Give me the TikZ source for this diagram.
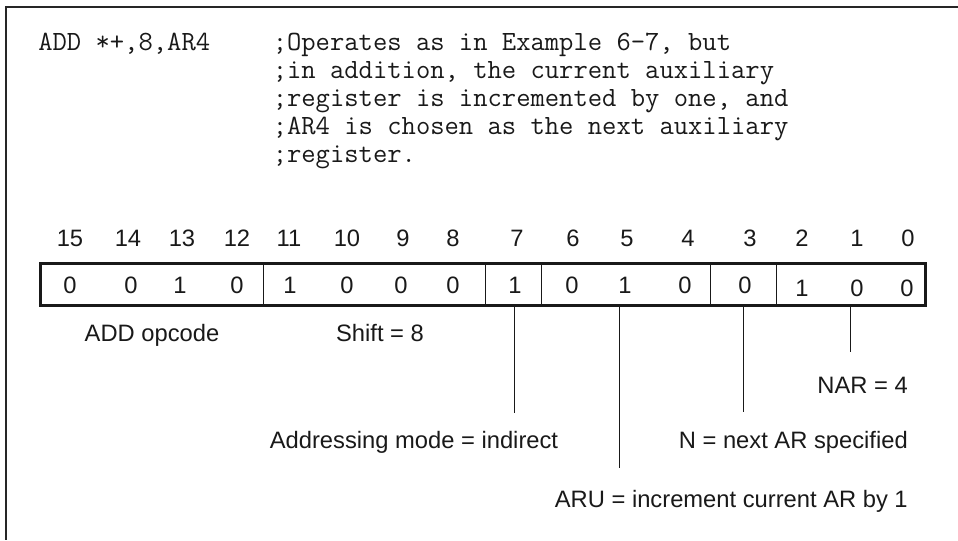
\documentclass[tikz,border=0pt]{standalone}
\usepackage{fontspec}
\setmainfont{Liberation Sans}
\begin{document}
\begin{tikzpicture}[x=0.75pt,y=-0.75pt,
  lbl/.style={font=\fontsize{17.8pt}{20pt}\selectfont, inner sep=0pt, text=black!90},
  bitnum/.style={lbl, anchor=base},
  bitval/.style={lbl, anchor=base},
  codeline/.style={font=\ttfamily\fontsize{20.86pt}{22pt}\selectfont, inner sep=0pt, anchor=base west, text=black!90},
  regbox/.style={draw=black!90, line width=2.25pt, minimum width=663.75pt, minimum height=31.5pt, inner sep=0pt, outer sep=0pt},
  divider/.style={draw=black!90, line width=0.75pt},
  leader/.style={draw=black!90, line width=0.75pt},
  frameline/.style={draw=black!85, line width=1.1pt}
]
\useasboundingbox (0,0) rectangle (958,540);
% frame
\coordinate (fc) at (6,7);
\coordinate (fr) at (958,7);
\coordinate (fb) at (6,540);
\draw[frameline] (fr) -- (fc) -- (fb);
% code text
\node[codeline] (instr) at (38,50) {ADD *+,8,AR4};
\node[codeline] (c1) at (272.5,50) {;Operates as in Example 6–7, but};
\node[codeline] (c2) at (272.5,78) {;in addition, the current auxiliary};
\node[codeline] (c3) at (272.5,106) {;register is incremented by one, and};
\node[codeline] (c4) at (272.5,134) {;AR4 is chosen as the next auxiliary};
\node[codeline] (c5) at (272.5,162) {;register.};
% bit numbers
\foreach \b/\x in {15/70,14/128,13/182,12/237,11/289,10/347,9/403,8/453,7/517,6/573,5/627,4/688,3/750,2/802,1/857,0/908}
  \node[bitnum] (n\b) at (\x,246.5) {\b};
% register box
\node[regbox] (reg) at (482.5,284) {};
\foreach \x in {263,485,541,710,776}
  \draw[divider] (\x,263) -- (\x,305);
% bit values
\foreach \b/\x/\v in {15/70/0,14/131/0,13/180/1,12/237/0,11/290/1,10/347/0,9/401/0,8/453/0,7/515/1,6/572/0,5/625/1,4/685/0,3/745/0}
  \node[bitval] (v\b) at (\x,293.5) {\v};
\foreach \b/\x/\v in {2/802/1,1/857/0,0/907/0}
  \node[bitval] (v\b) at (\x,296.5) {\v};
% field labels
\node[lbl, anchor=base] (opc) at (152,341.5) {ADD opcode};
\node[lbl, anchor=base] (shf) at (380,341.5) {Shift = 8};
\node[lbl, anchor=base east] (nar) at (908,393.5) {NAR = 4};
\node[lbl, anchor=base] (adm) at (414,448.5) {Addressing mode = indirect};
\node[lbl, anchor=base east] (nxt) at (908,448.5) {N = next AR specified};
\node[lbl, anchor=base east] (aru) at (908,507.5) {ARU = increment current AR by 1};
% leaders
\coordinate (l7) at (514,413);
\coordinate (l5) at (619,468);
\coordinate (l3) at (743,412);
\coordinate (l1) at (850,352);
\draw[leader] (reg.south -| l7) -- (l7);
\draw[leader] (reg.south -| l5) -- (l5);
\draw[leader] (reg.south -| l3) -- (l3);
\draw[leader] (reg.south -| l1) -- (l1);
\end{tikzpicture}
\end{document}
